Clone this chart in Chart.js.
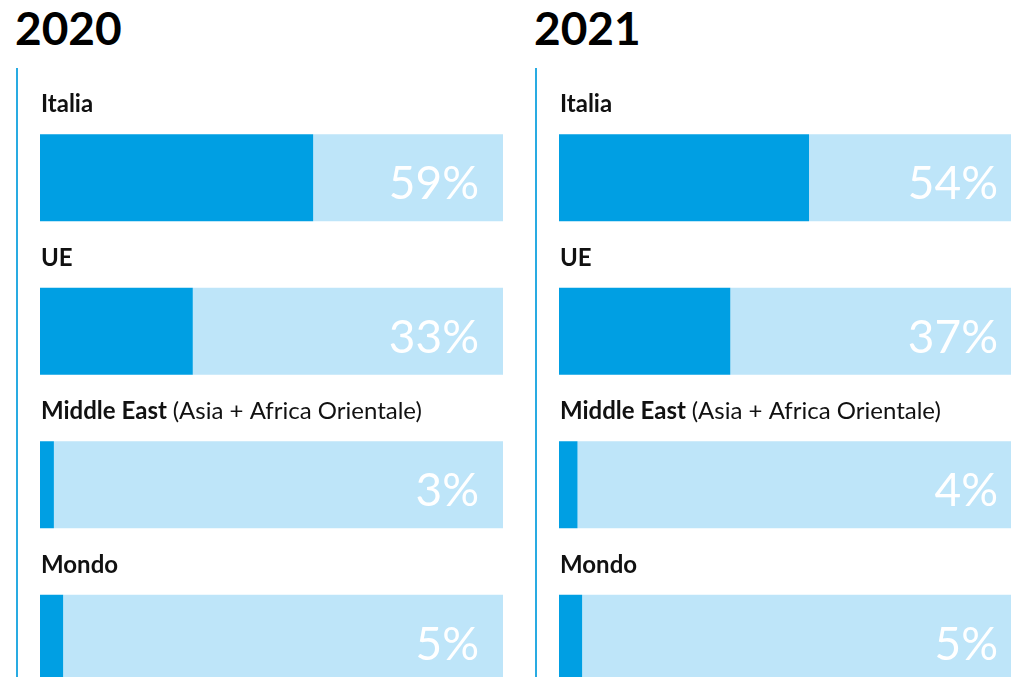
<!DOCTYPE html>
<html><head><meta charset="utf-8">
<script src="https://cdn.jsdelivr.net/npm/chart.js@4"></script>
<style>
html,body{margin:0;padding:0;background:#fff;width:1011px;height:677px;overflow:hidden;position:relative;}
.panel{position:absolute;top:0;width:519px;height:677px;overflow:hidden;}
.title{position:absolute;left:15px;top:5px;font:700 46px Lato, sans-serif;line-height:46px;color:#000;margin:0;}
.vline{position:absolute;left:16px;top:68px;width:2px;height:609px;background:#29ABE2;}
canvas{position:absolute;left:0;top:0;}
</style></head>
<body>
<div class="panel" id="p0" style="left:0px"><div class="title"></div><div class="vline"></div><canvas width="519" height="720"></canvas></div>
<div class="panel" id="p1" style="left:519px;width:492px"><div class="title"></div><div class="vline"></div><canvas width="519" height="720"></canvas></div>
<script>
const regions = ['Italia', 'UE', 'Middle East', 'Mondo'];
const regionNotes = ['', '', '(Asia + Africa Orientale)', ''];
const years = ['2020', '2021'];
const share2020 = [59, 33, 3, 5];
const share2021 = [54, 37, 4, 5];
const shares = [share2020, share2021];

const DARK = '#009FE3';
const LIGHT = '#BEE5F9';

const labelPlugin = {
  id: 'barLabels',
  afterDatasetsDraw(chart) {
    const ctx = chart.ctx;
    const meta = chart.getDatasetMeta(0);
    const vals = chart.data.datasets[0].data;
    const area = chart.chartArea;
    meta.data.forEach((bar, i) => {
      const top = bar.y - bar.height / 2;
      const bottom = bar.y + bar.height / 2;
      ctx.save();
      ctx.textBaseline = 'alphabetic';
      ctx.textAlign = 'left';
      ctx.fillStyle = '#111';
      ctx.font = '700 24px Lato, sans-serif';
      const x0 = area.left + 1;
      const yb = top - 22;
      ctx.fillText(regions[i], x0, yb);
      if (regionNotes[i]) {
        const w = ctx.measureText(regions[i] + ' ').width;
        ctx.font = '400 24px Lato, sans-serif';
        ctx.fillText(regionNotes[i], x0 + w, yb);
      }
      ctx.textAlign = 'right';
      ctx.fillStyle = '#FFFFFF';
      ctx.font = '400 46px Lato, sans-serif';
      ctx.fillText(vals[i] + '%', area.right - 24, bottom - 22);
      ctx.restore();
    });
  }
};

years.forEach((yr, k) => {
  const panel = document.getElementById('p' + k);
  panel.querySelector('.title').textContent = yr;
  const vals = shares[k];
  new Chart(panel.querySelector('canvas'), {
    type: 'bar',
    data: {
      labels: regions,
      datasets: [
        { data: vals, backgroundColor: DARK, borderWidth: 0, categoryPercentage: 0.567, barPercentage: 1 },
        { data: vals.map(v => 100 - v), backgroundColor: LIGHT, borderWidth: 0, categoryPercentage: 0.567, barPercentage: 1 }
      ]
    },
    options: {
      indexAxis: 'y',
      responsive: false,
      animation: false,
      events: [],
      layout: { padding: { left: 40, right: 16, top: 101, bottom: 5 } },
      plugins: { legend: { display: false }, tooltip: { enabled: false }, title: { display: false } },
      scales: {
        x: { stacked: true, min: 0, max: 100, display: false },
        y: { stacked: true, display: false }
      }
    },
    plugins: [labelPlugin]
  });
});
</script>
</body></html>
